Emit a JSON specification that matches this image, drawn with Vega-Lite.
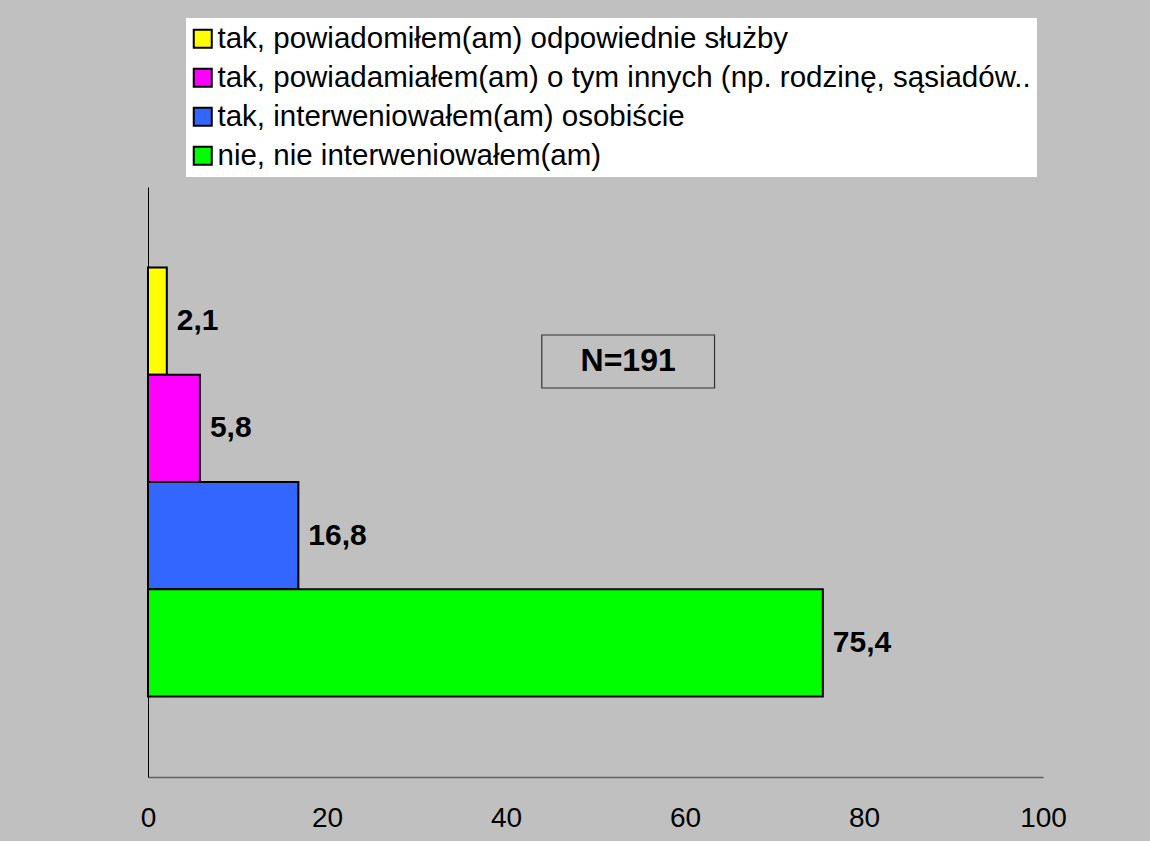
{
  "$schema": "https://vega.github.io/schema/vega-lite/v6.json",
  "autosize": {"type": "none"},
  "width": 895,
  "height": 590,
  "padding": {"left": 148, "top": 187, "right": 107, "bottom": 64},
  "background": "#C0C0C0",
  "config": {
    "view": {"stroke": null},
    "font": "Liberation Sans",
    "locale": {"number": {"decimal": ",", "thousands": "\u00a0", "grouping": [3], "currency": ["", " zł"]}}
  },
  "datasets": {
    "answers": [
      {"answer": "tak, powiadomiłem(am) odpowiednie służby", "pct": 2.1},
      {"answer": "tak, powiadamiałem(am) o tym innych (np. rodzinę, sąsiadów..", "pct": 5.8},
      {"answer": "tak, interweniowałem(am) osobiście", "pct": 16.8},
      {"answer": "nie, nie interweniowałem(am)", "pct": 75.4}
    ],
    "note": [{"text": "N=191"}]
  },
  "layer": [
    {
      "data": {"name": "answers"},
      "layer": [
        {
          "mark": {"type": "bar", "stroke": "black", "strokeWidth": 2},
          "encoding": {
            "y": {
              "field": "answer", "type": "nominal", "sort": null,
              "scale": {"paddingInner": 0, "paddingOuter": 0.75},
              "axis": {"title": null, "labels": false, "ticks": false, "domainColor": "black", "domainWidth": 1, "grid": false}
            },
            "x": {
              "field": "pct", "type": "quantitative",
              "scale": {"domain": [0, 100], "nice": false},
              "axis": {"title": null, "values": [0, 20, 40, 60, 80, 100], "ticks": false, "grid": false, "labelFlush": false, "labelPadding": 27, "labelFontSize": 28, "labelColor": "black", "labelFont": "Liberation Sans", "domainColor": "#606060", "domainWidth": 1.5}
            },
            "color": {
              "field": "answer", "type": "nominal", "sort": null,
              "scale": {
                "domain": [
                  "tak, powiadomiłem(am) odpowiednie służby",
                  "tak, powiadamiałem(am) o tym innych (np. rodzinę, sąsiadów..",
                  "tak, interweniowałem(am) osobiście",
                  "nie, nie interweniowałem(am)"
                ],
                "range": ["#FFFF00", "#FF00FF", "#3366FF", "#00FF00"]
              },
              "legend": {
                "title": null, "orient": "none", "legendX": 38, "legendY": -169,
                "fillColor": "white", "padding": 6,
                "symbolType": "square", "symbolSize": 324, "symbolStrokeColor": "black", "symbolStrokeWidth": 2, "symbolOpacity": 1,
                "symbolOffset": -4,
                "labelFontSize": 29.5, "labelFont": "Liberation Sans", "labelColor": "black", "labelLimit": 2000, "labelOffset": 0,
                "rowPadding": 8
              }
            }
          }
        },
        {
          "mark": {"type": "text", "align": "left", "baseline": "middle", "dx": 10, "fontSize": 30, "fontWeight": "bold", "color": "black"},
          "encoding": {
            "y": {"field": "answer", "type": "nominal", "sort": null},
            "x": {"field": "pct", "type": "quantitative"},
            "text": {"field": "pct", "type": "quantitative", "format": ".1f"}
          }
        }
      ]
    },
    {
      "data": {"name": "note"},
      "layer": [
        {
          "mark": {"type": "rect", "fill": null, "fillOpacity": 0, "stroke": "#333333", "strokeWidth": 1.2},
          "encoding": {
            "x": {"datum": 44},
            "x2": {"datum": 63.3},
            "y": {"datum": 389, "type": "quantitative", "scale": {"domain": [0, 590], "nice": false}, "axis": null},
            "y2": {"datum": 442}
          }
        },
        {
          "mark": {"type": "text", "align": "center", "baseline": "middle", "fontSize": 32, "fontWeight": "bold", "color": "black"},
          "encoding": {
            "x": {"datum": 53.65},
            "y": {"datum": 416, "type": "quantitative"},
            "text": {"field": "text", "type": "nominal"}
          }
        }
      ]
    }
  ],
  "resolve": {"scale": {"y": "independent", "color": "independent"}}
}
